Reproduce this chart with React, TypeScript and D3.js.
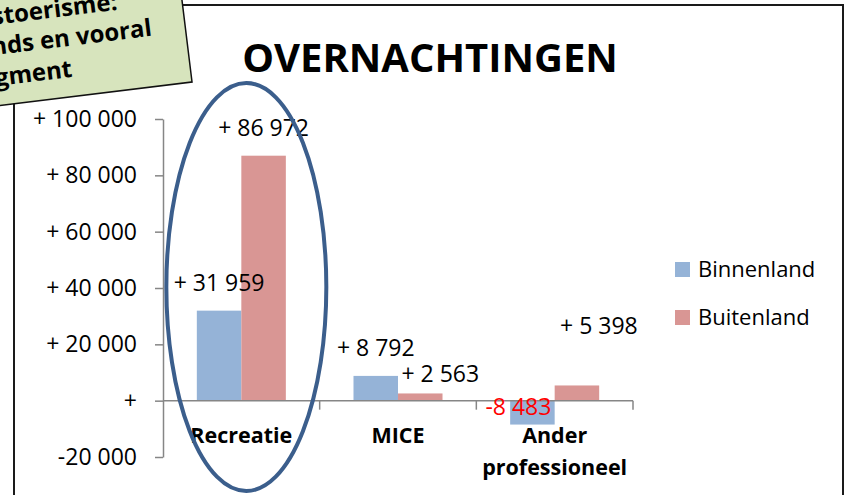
import React, { useEffect, useRef } from 'react';
import * as d3 from 'd3';

const categories = ['Recreatie', 'MICE', 'Ander professioneel'];
const categoryLines = [['Recreatie'], ['MICE'], ['Ander', 'professioneel']];
const series = ['Binnenland', 'Buitenland'];
const binnenland = [31959, 8792, -8483];
const buitenland = [86972, 2563, 5398];
const yTicks = [-20000, 0, 20000, 40000, 60000, 80000, 100000];
const colors = ['#95b3d7', '#d99694'];
// hand-moved data labels (dx, dy from default spot above bar)
const labelDx = [[0, 0, -14], [0, 20, 22]];
const labelDy = [[0, 0, 34], [0, 9, -31]];
const noteLines = ['stoerisme:', 'nds en vooral', 'gment'];

const FONT = "'Open Sans', sans-serif";

const fmt = (v: number) =>
  v === 0 ? '+' : (v > 0 ? '+ ' : '-') + d3.format(',')(Math.abs(v)).replace(/,/g, ' ');

const App = () => {
  const svgRef = useRef<SVGSVGElement>(null);

  useEffect(() => {
    const svg = d3.select(svgRef.current);
    svg.selectAll('*').remove();

    const y = d3.scaleLinear().domain([-20000, 100000]).range([457, 119]);
    const x0 = d3.scaleBand().domain(categories).range([163, 633]).padding(0);
    const x1 = d3.scaleBand().domain(series).range([0, x0.bandwidth()]).paddingInner(0).paddingOuter(0.76);

    // frame
    svg.append('rect')
      .attr('x', 14).attr('y', 5).attr('width', 829).attr('height', 600)
      .attr('fill', 'white').attr('stroke', '#1a1a1a').attr('stroke-width', 2);

    // title
    svg.append('text')
      .attr('x', 430).attr('y', 72)
      .attr('text-anchor', 'middle')
      .attr('font-family', FONT).attr('font-weight', 700).attr('font-size', 40)
      .text('OVERNACHTINGEN');

    // bars
    const data = [binnenland, buitenland];
    data.forEach((vals, si) => {
      svg.append('g').selectAll('rect')
        .data(vals)
        .join('rect')
        .attr('x', (d, i) => x0(categories[i])! + x1(series[si])!)
        .attr('y', d => y(Math.max(d, 0)))
        .attr('width', x1.bandwidth())
        .attr('height', d => Math.abs(y(d) - y(0)))
        .attr('fill', colors[si]);
    });

    // y axis
    const yAxis = svg.append('g')
      .attr('transform', 'translate(163,0)')
      .call(d3.axisLeft(y).tickValues(yTicks).tickFormat(d => fmt(+d)).tickSize(8).tickSizeOuter(0).tickPadding(18));
    yAxis.selectAll('path, line').attr('stroke', '#868686').attr('stroke-width', 1.5);
    yAxis.selectAll('text').attr('font-family', FONT).attr('font-size', 23).attr('fill', '#000');

    // x axis
    const y0 = y(0);
    svg.append('line')
      .attr('x1', 163).attr('x2', 633).attr('y1', y0).attr('y2', y0)
      .attr('stroke', '#868686').attr('stroke-width', 1.5);
    svg.append('g').selectAll('line')
      .data(categories)
      .join('line')
      .attr('x1', d => x0(d)! + x0.bandwidth()).attr('x2', d => x0(d)! + x0.bandwidth())
      .attr('y1', y0).attr('y2', y0 + 9)
      .attr('stroke', '#868686').attr('stroke-width', 1.5);

    // category labels
    categories.forEach((c, i) => {
      const t = svg.append('text')
        .attr('text-anchor', 'middle')
        .attr('font-family', FONT).attr('font-weight', 700).attr('font-size', 21.5);
      categoryLines[i].forEach((ln, k) => {
        t.append('tspan')
          .attr('x', x0(c)! + x0.bandwidth() / 2)
          .attr('y', 443 + k * 32)
          .text(ln);
      });
    });

    // data labels
    data.forEach((vals, si) => {
      svg.append('g').selectAll('text')
        .data(vals)
        .join('text')
        .attr('x', (d, i) => x0(categories[i])! + x1(series[si])! + x1.bandwidth() / 2 + labelDx[si][i])
        .attr('y', (d, i) => y(Math.max(d, 0)) - 20 + labelDy[si][i])
        .attr('text-anchor', 'middle')
        .attr('font-family', FONT).attr('font-size', 23)
        .attr('fill', d => (d < 0 ? '#ff0000' : '#000'))
        .text(d => fmt(d));
    });

    // legend
    const legend = svg.append('g').selectAll('g')
      .data(series)
      .join('g')
      .attr('transform', (d, i) => `translate(675,${262 + i * 48})`);
    legend.append('rect').attr('width', 15).attr('height', 15).attr('fill', (d, i) => colors[i]);
    legend.append('text')
      .attr('x', 23).attr('y', 15)
      .attr('font-family', FONT).attr('font-size', 22)
      .text(d => d);

    // highlight ellipse round Recreatie
    svg.append('ellipse')
      .attr('cx', x0('Recreatie')! + x0.bandwidth() / 2 + 5)
      .attr('cy', 287).attr('rx', 80).attr('ry', 204)
      .attr('fill', 'none').attr('stroke', '#3b5e8c').attr('stroke-width', 4);

    // sticky note (rotated, mostly off the slide)
    const note = svg.append('g').attr('transform', 'rotate(-7)');
    note.append('rect')
      .attr('x', -300).attr('y', -200).attr('width', 480.6).attr('height', 304.8)
      .attr('fill', '#d7e4bd').attr('stroke', '#111').attr('stroke-width', 1.5);
    note.selectAll('text')
      .data(noteLines)
      .join('text')
      .attr('x', (d, i) => [116, 147, 63][i])
      .attr('y', (d, i) => [24, 54, 85][i])
      .attr('text-anchor', 'end')
      .attr('font-family', FONT).attr('font-weight', 700).attr('font-size', 24)
      .text(d => d);
  }, []);

  return (
    <svg
      ref={svgRef}
      width={844}
      height={495}
      style={{ position: 'absolute', left: 0, top: 0, background: 'white' }}
    />
  );
};

export default App;
